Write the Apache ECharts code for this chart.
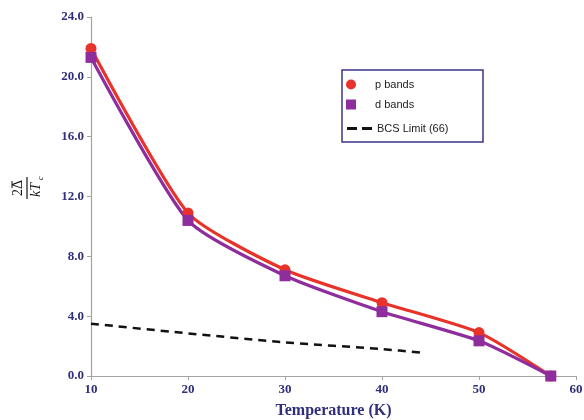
<!DOCTYPE html>
<html>
<head>
<meta charset="utf-8">
<script src="https://cdn.jsdelivr.net/npm/echarts@6/dist/echarts.min.js"></script>
<style>html,body{margin:0;padding:0;background:#fff}#c{width:584px;height:420px}</style>
</head>
<body>
<div id="c"></div>
<script>
var temps = [10, 20, 30, 40, 50, 57.4];
var pBands = [21.9, 10.9, 7.1, 4.9, 2.9, 0];
var dBands = [21.3, 10.4, 6.7, 4.3, 2.35, 0];
var bcsTemps = [10, 20, 30, 40, 44.2];
var bcsLimit = [3.5, 2.85, 2.25, 1.8, 1.55];
var yTicks = [0, 4, 8, 12, 16, 20, 24];
var xTicks = [10, 20, 30, 40, 50, 60];

function pairs(xs, ys) { return xs.map(function (x, i) { return [x, ys[i]]; }); }

var navy = '#2f2f7c';
var serif = '"Liberation Serif","Times New Roman",serif';
var sans = '"Liberation Sans",Arial,sans-serif';

var chart = echarts.init(document.getElementById('c'));
chart.setOption({
  animation: false,
  backgroundColor: '#fff',
  grid: { left: 91, right: 8, top: 17, bottom: 44, containLabel: false, outerBoundsMode: 'none' },
  xAxis: {
    type: 'value', min: xTicks[0], max: xTicks[xTicks.length - 1], interval: 10,
    splitLine: { show: false },
    axisLine: { lineStyle: { color: '#a3a3a3', width: 1.2 } },
    axisTick: { length: 4, lineStyle: { color: '#a3a3a3' } },
    axisLabel: { color: navy, fontFamily: serif, fontWeight: 'bold', fontSize: 13, margin: 7 },
    name: 'Temperature (K)', nameLocation: 'middle', nameGap: 27,
    nameTextStyle: { color: navy, fontFamily: serif, fontWeight: 'bold', fontSize: 16 }
  },
  yAxis: {
    type: 'value', min: yTicks[0], max: yTicks[yTicks.length - 1], interval: 4,
    splitLine: { show: false },
    axisLine: { show: true, lineStyle: { color: '#a3a3a3', width: 1.2 } },
    axisTick: { show: true, length: 4, lineStyle: { color: '#a3a3a3' } },
    axisLabel: { color: navy, fontFamily: serif, fontWeight: 'bold', fontSize: 13, margin: 7,
      formatter: function (v) { return v.toFixed(1); } }
  },
  legend: [
    {
      data: [{ name: 'p bands', icon: 'circle' }, { name: 'd bands', icon: 'rect' }],
      orient: 'vertical', left: 346, top: 79, padding: 0, itemWidth: 10, itemHeight: 10, itemGap: 9,
      itemTextGap: 5,
      textStyle: { fontFamily: sans, fontSize: 11, color: '#222', padding: [0, 0, 0, 14] }
    },
    {
      data: [{ name: 'BCS Limit (66)', icon: 'path://M0,0H10V3H0ZM15,0H25V3H15Z' }],
      orient: 'vertical', left: 347, top: 123, padding: 0, itemWidth: 25, itemHeight: 3,
      itemTextGap: 9,
      textStyle: { fontFamily: sans, fontSize: 11, color: '#222' }
    }
  ],
  graphic: [
    { type: 'rect', shape: { x: 342, y: 70, width: 141, height: 72 },
      style: { fill: 'none', stroke: '#3b3486', lineWidth: 1.5 }, z: 10 },
    { type: 'group', x: 27, y: 188, rotation: Math.PI / 2, children: [
      { type: 'text', x: 0, y: -2, style: { text: '2Δ', font: '14px ' + serif, fill: '#111', align: 'center', verticalAlign: 'bottom' } },
      { type: 'line', shape: { x1: 0, y1: -15, x2: 7, y2: -15 }, style: { stroke: '#111', lineWidth: 1 } },
      { type: 'line', shape: { x1: -11, y1: 0, x2: 11, y2: 0 }, style: { stroke: '#111', lineWidth: 1.2 } },
      { type: 'text', x: -2, y: 2, style: { text: 'kT', font: 'italic 14px ' + serif, fill: '#111', align: 'center', verticalAlign: 'top' } },
      { type: 'text', x: 8, y: 10, style: { text: 'c', font: 'italic 8px ' + serif, fill: '#111', align: 'left', verticalAlign: 'top' } }
    ] }
  ],
  series: [
    {
      name: 'BCS Limit (66)', type: 'line', data: pairs(bcsTemps, bcsLimit), smooth: 0.3,
      showSymbol: false, symbol: 'none', color: '#111',
      lineStyle: { color: '#111', width: 2.5, type: [8, 6] }
    },
    {
      name: 'p bands', type: 'line', data: pairs(temps, pBands), smooth: 0.2,
      symbol: 'circle', symbolSize: 11, color: '#e8332a',
      lineStyle: { color: '#e8332a', width: 3.2 }, itemStyle: { color: '#e8332a' }
    },
    {
      name: 'd bands', type: 'line', data: pairs(temps, dBands), smooth: 0.2,
      symbol: 'rect', symbolSize: 11, color: '#8e2d9b',
      lineStyle: { color: '#8e2d9b', width: 3.2 }, itemStyle: { color: '#8e2d9b' }
    }
  ]
});
</script>
</body>
</html>
